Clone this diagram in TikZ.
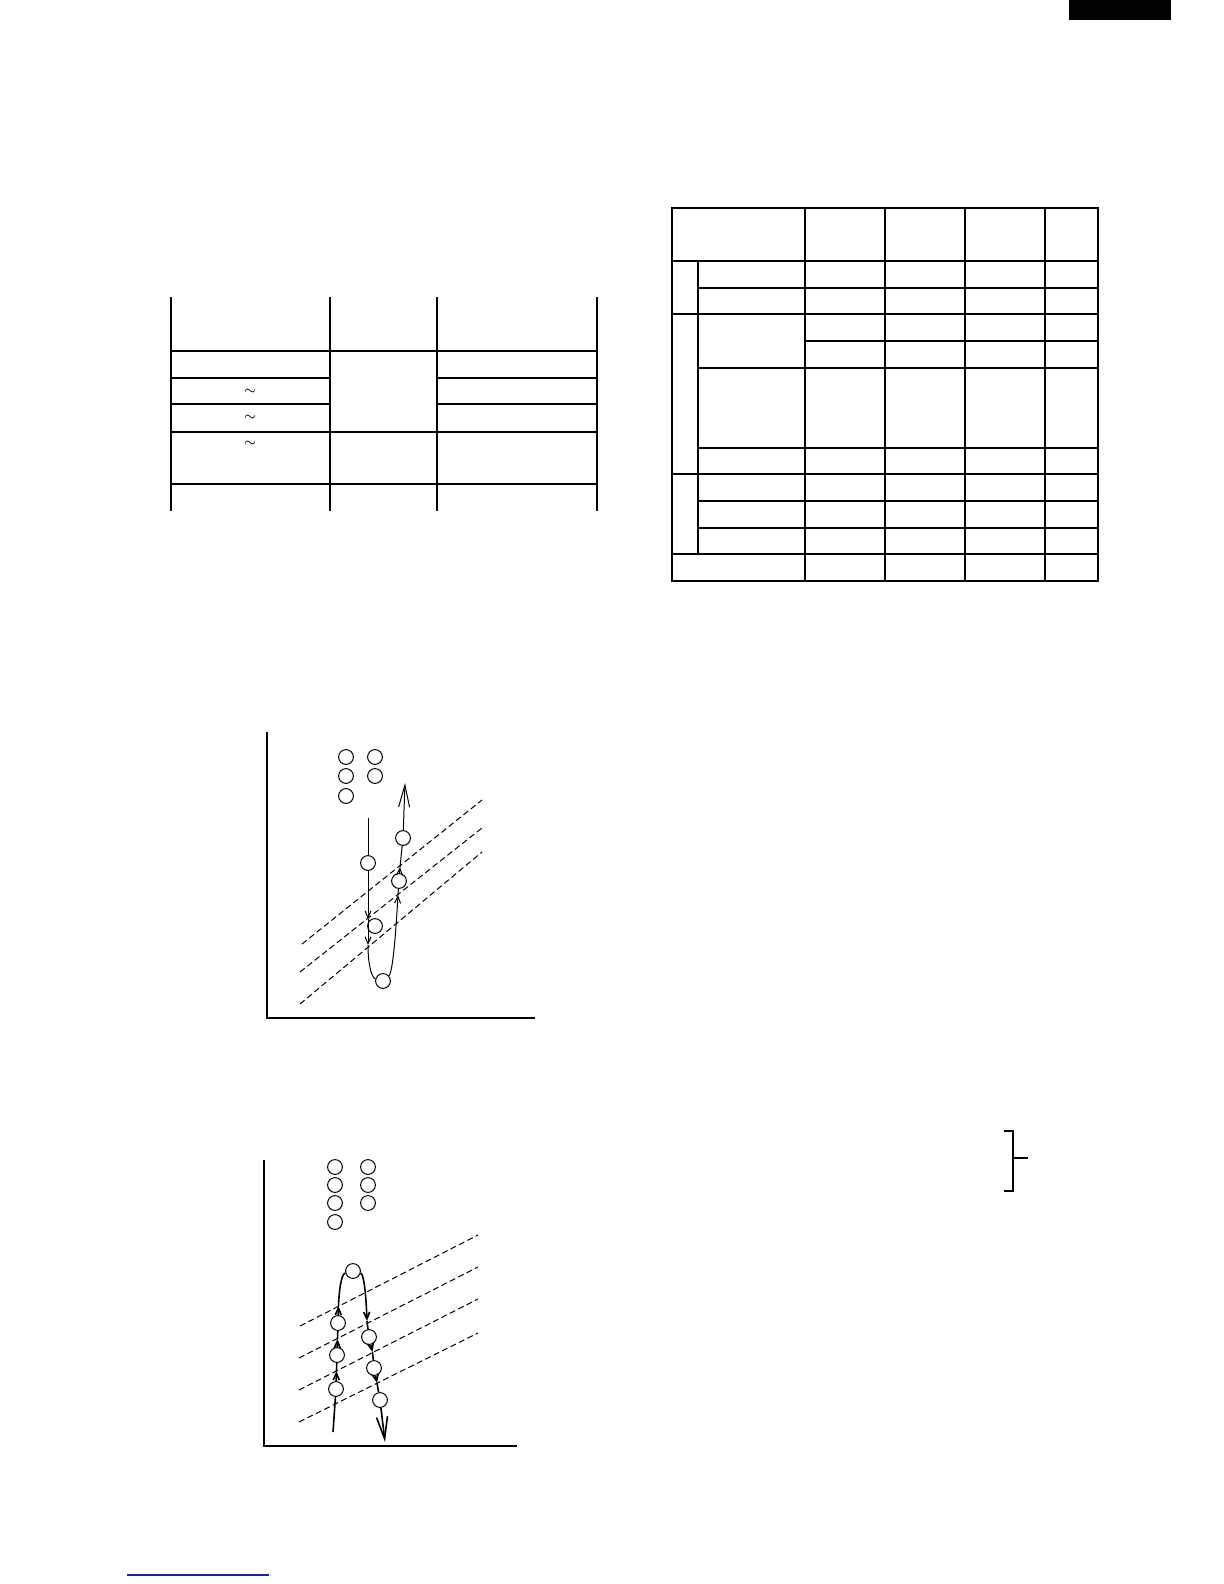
\documentclass[tikz,border=0pt]{standalone}
\usepackage{amsmath}
\usetikzlibrary{positioning,arrows.meta}
\definecolor{linkblue}{RGB}{30,30,160}

\begin{document}
\begin{tikzpicture}[x=0.5pt,y=-0.5pt,
  rule/.style={line width=1pt},
  axis/.style={line width=1pt},
  level/.style={line width=0.5pt, dash pattern=on 3pt off 1.7pt},
  pt/.style={circle, draw, fill=white, inner sep=0pt, minimum size=7.4pt, line width=0.5pt},
  flow/.style={line width=0.5pt},
  flowb/.style={line width=0.8pt},
  tip/.style={-{Straight Barb[length=3.5pt,width=3pt]}},
  endtip/.style={-{Straight Barb[length=11pt,width=5.5pt]}}]
  \useasboundingbox (0,0) rectangle (1224,1584);
  \fill (1069,0) rectangle (1171,20);

  % first table
  \draw[rule] (171,297) -- (171,511) (330,297) -- (330,511) (437,297) -- (437,511) (597,297) -- (597,511);
  \draw[rule] (171,351) -- (597,351) (171,432) -- (597,432) (171,484) -- (597,484);
  \draw[rule] (171,378) -- (330,378) (437,378) -- (597,378);
  \draw[rule] (171,404) -- (330,404) (437,404) -- (597,404);
  \node[font=\scriptsize] (t1) at (250,392) {$\sim$};
  \node[font=\scriptsize] (t2) at (250,418) {$\sim$};
  \node[font=\scriptsize] (t3) at (250,444) {$\sim$};

  % second table
  \draw[rule] (672,208) rectangle (1098,581);
  \foreach \x in {805,885,965,1045} \draw[rule] (\x,208) -- (\x,581);
  \draw[rule] (698,261) -- (698,554);
  \draw[rule] (672,261) -- (1098,261) (672,314) -- (1098,314) (672,474) -- (1098,474) (672,554) -- (1098,554);
  \draw[rule] (698,288) -- (1098,288) (805,341) -- (1098,341) (698,368) -- (1098,368);
  \draw[rule] (698,448) -- (1098,448) (698,501) -- (1098,501) (698,528) -- (1098,528);

  % first graph
  \draw[axis] (267,732) -- (267,1018) -- (535,1018);
  \draw[level] (302,944) -- (482,800);
  \draw[level] (300,972) -- (482,828);
  \draw[level] (300,1004) -- (482,852);
  \node[pt] (k1) at (346,757) {};
  \node[pt] (k2) at (375,757) {};
  \node[pt] (k3) at (346,776) {};
  \node[pt] (k4) at (375,776) {};
  \node[pt] (k5) at (346,796) {};
  \node[pt] (A) at (368,863) {};
  \node[pt] (B) at (375,926) {};
  \node[pt] (C) at (383,981) {};
  \node[pt] (D) at (399,881) {};
  \node[pt] (E) at (403,838) {};
  \coordinate (in1) at (368,818);
  \coordinate (a1) at (368,919);
  \coordinate (a2) at (368,945);
  \coordinate (a3) at (398,895);
  \coordinate (a4) at (400,867);
  \coordinate (out1) at (405,783);
  \draw[flow] (in1) -- (A);
  \draw[flow,tip] (A) -- (a1);
  \draw[flow,tip] (a1) -- (a2);
  \draw[flow] (a2) .. controls (368,966) and (372,978) .. (C);
  \draw[flow,tip] (C) .. controls (393,972) and (396,930) .. (a3);
  \draw[flow] (a3) -- (D);
  \draw[flow,tip] (D) -- (a4);
  \draw[flow] (a4) -- (E);
  \draw[flow,endtip] (E) -- (out1);

  % second graph
  \draw[axis] (264,1160) -- (264,1446) -- (517,1446);
  \draw[level] (300,1326) -- (478,1235);
  \draw[level] (299,1358) -- (478,1267);
  \draw[level] (299,1390) -- (478,1299);
  \draw[level] (299,1422) -- (478,1333);
  \node[pt] (m1) at (335,1167) {};
  \node[pt] (m2) at (368,1167) {};
  \node[pt] (m3) at (335,1185) {};
  \node[pt] (m4) at (368,1185) {};
  \node[pt] (m5) at (335,1203) {};
  \node[pt] (m6) at (368,1203) {};
  \node[pt] (m7) at (335,1222) {};
  \node[pt] (T) at (353,1271) {};
  \node[pt] (L1) at (338,1323) {};
  \node[pt] (L2) at (337,1355) {};
  \node[pt] (L3) at (336,1389) {};
  \node[pt] (R1) at (369,1337) {};
  \node[pt] (R2) at (374,1368) {};
  \node[pt] (R3) at (380,1400) {};
  \coordinate (in2) at (333,1432);
  \coordinate (u1) at (336.5,1371);
  \coordinate (u2) at (337.5,1339);
  \coordinate (u3) at (338.5,1306);
  \coordinate (d1) at (367,1321);
  \coordinate (d2) at (372.5,1352);
  \coordinate (d3) at (377,1383);
  \coordinate (out2) at (385,1442);
  \draw[flowb] (in2) -- (L3);
  \draw[flowb,tip] (L3) -- (u1);
  \draw[flowb] (u1) -- (L2);
  \draw[flowb,tip] (L2) -- (u2);
  \draw[flowb] (u2) -- (L1);
  \draw[flowb,tip] (L1) -- (u3);
  \draw[flowb] (u3) .. controls (339,1292) and (341,1274) .. (T);
  \draw[flowb,tip] (T) .. controls (364,1274) and (366,1295) .. (d1);
  \draw[flowb] (d1) -- (R1);
  \draw[flowb,tip] (R1) -- (d2);
  \draw[flowb] (d2) -- (R2);
  \draw[flowb,tip] (R2) -- (d3);
  \draw[flowb] (d3) -- (R3);
  \draw[flowb,endtip] (R3) -- (out2);

  % bracket
  \draw[line width=1pt] (1004,1131) -- (1013,1131) -- (1013,1191) -- (1004,1191) (1013,1158) -- (1028,1158);

  % link rule
  \draw[linkblue, line width=0.6pt] (127,1575) -- (269,1575);
\end{tikzpicture}
\end{document}
